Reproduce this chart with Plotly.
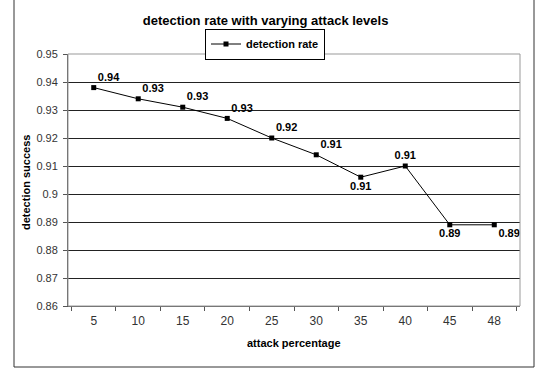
import plotly.graph_objects as go

categories = ["5", "10", "15", "20", "25", "30", "35", "40", "45", "48"]
detection_rate = [0.938, 0.934, 0.931, 0.927, 0.920, 0.914, 0.906, 0.910, 0.889, 0.889]
label_positions = ["top right", "top right", "top right", "top right", "top right",
                   "top right", "bottom center", "top center", "bottom center", "bottom right"]
y_ticks = [0.86, 0.87, 0.88, 0.89, 0.9, 0.91, 0.92, 0.93, 0.94, 0.95]
y_tick_text = ["0.86", "0.87", "0.88", "0.89", "0.9", "0.91", "0.92", "0.93", "0.94", "0.95"]

W, H = 542, 376
L, R, T, B = 68, 22, 54, 70
pw, ph = W - L - R, H - T - B

def px_x(x):
    return (x - L) / pw

def px_y(y):
    return (H - B - y) / ph

fig = go.Figure()
fig.add_trace(go.Scatter(
    x=categories, y=detection_rate,
    mode="lines+markers+text",
    name="detection rate",
    line=dict(color="black", width=1),
    marker=dict(symbol="square", size=5, color="black"),
    text=[f"{v:.2f}" for v in detection_rate],
    textposition=label_positions,
    textfont=dict(family="Liberation Sans, Arial", size=11, color="black", weight="bold"),
    cliponaxis=False,
))

fig.update_layout(
    width=W, height=H,
    margin=dict(l=L, r=R, t=T, b=B, autoexpand=False),
    paper_bgcolor="white", plot_bgcolor="white",
    font=dict(family="Liberation Sans, Arial", size=11, color="#222"),
    title=dict(text="<b>detection rate with varying attack levels</b>",
               x=0.49, xanchor="center", y=1 - 20 / H, yanchor="middle",
               font=dict(size=13, color="black")),
    showlegend=True,
    legend=dict(x=px_x(265), xanchor="center", y=px_y(44), yanchor="middle",
                orientation="h", bordercolor="black", borderwidth=1,
                bgcolor="white", font=dict(size=11, color="black", weight="bold"),
                itemwidth=30, tracegroupgap=0),
    xaxis=dict(type="category", showgrid=False, ticks="outside", tickson="boundaries",
               ticklen=4, tickcolor="#555", showline=True, linecolor="#555",
               mirror=False, tickfont=dict(size=12, color="#333"), automargin=False,
               ticklabelstandoff=4),
    yaxis=dict(range=[0.86, 0.95], tickvals=y_ticks, ticktext=y_tick_text,
               showgrid=True, gridcolor="#222", gridwidth=1,
               ticks="outside", ticklen=4, tickcolor="#555", automargin=False,
               ticklabelstandoff=3,
               showline=True, linecolor="#555", zeroline=False,
               tickfont=dict(size=11, color="#333")),
    annotations=[
        dict(text="<b>attack percentage</b>", xref="paper", yref="paper",
             x=px_x(294), y=px_y(343), xanchor="center", yanchor="middle",
             showarrow=False, font=dict(size=11, color="black")),
        dict(text="<b>detection success</b>", xref="paper", yref="paper",
             x=px_x(26), y=px_y(183), xanchor="center", yanchor="middle",
             textangle=-90, showarrow=False, font=dict(size=11, color="black")),
    ],
)

# plot area border (gray)
fig.add_shape(type="rect", xref="paper", yref="paper", x0=0, x1=1, y0=0, y1=1,
              line=dict(color="#999", width=1), layer="above")
# outer chart border
fig.add_shape(type="rect", xref="paper", yref="paper",
              x0=px_x(14), x1=px_x(534), y0=px_y(367), y1=px_y(-3),
              line=dict(color="#333", width=1))

fig.write_html("out.html", config={"displayModeBar": False},
               post_script="document.body.style.margin='0';")
